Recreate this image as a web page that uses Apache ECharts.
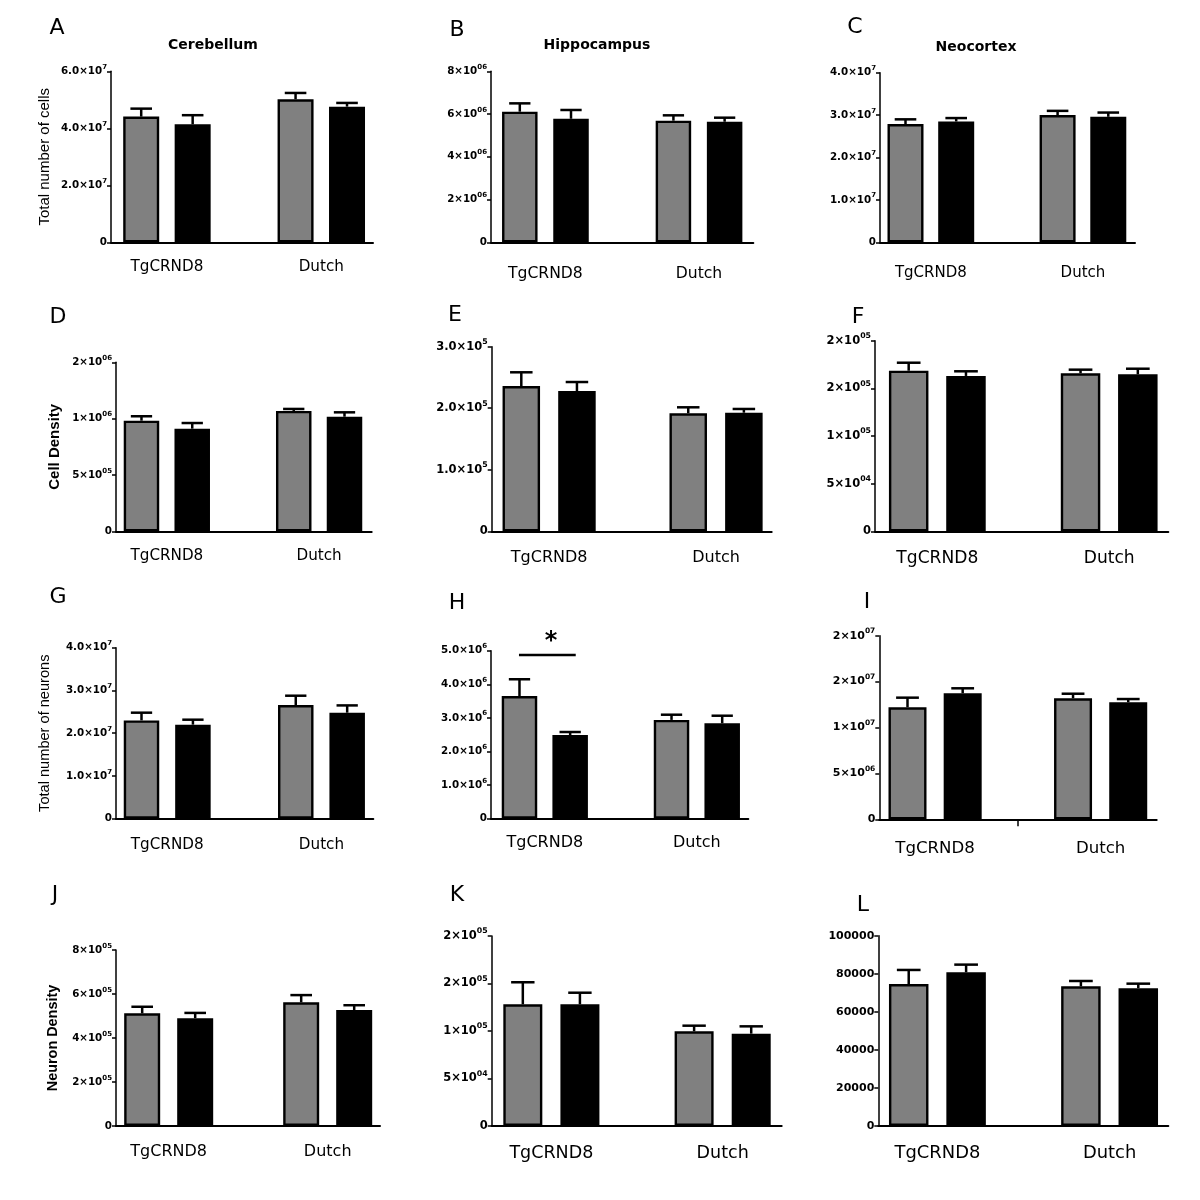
<!DOCTYPE html>
<html><head><meta charset="utf-8">
<script src="https://cdn.jsdelivr.net/npm/echarts@6/dist/echarts.min.js"></script>
<style>html,body{margin:0;padding:0;background:#fff}#c{width:1200px;height:1200px}</style>
</head><body><div id="c"></div>
<script>
// ---------------- DATA ----------------
const categories = ['TgCRND8', 'Dutch'];
const panelLetters = ['A','B','C','D','E','F','G','H','I','J','K','L'];
const regionTitles = ['Cerebellum', 'Hippocampus', 'Neocortex'];
const yAxisNames = ['Total number of cells', 'Cell Density', 'Total number of neurons', 'Neuron Density'];

// mean and SEM per category [TgCRND8, Dutch]
const A_gray = [4.41e7, 5.02e7], A_grayErr = [0.28e7, 0.22e7];
const A_black = [4.14e7, 4.76e7], A_blackErr = [0.32e7, 0.13e7];
const A_ticks = ['0', '2.0×10^7', '4.0×10^7', '6.0×10^7'];

const B_gray = [6.11e6, 5.69e6], B_grayErr = [0.39e6, 0.25e6];
const B_black = [5.78e6, 5.64e6], B_blackErr = [0.41e6, 0.19e6];
const B_ticks = ['0', '2×10^06', '4×10^06', '6×10^06', '8×10^06'];

const C_gray = [2.79e7, 3.00e7], C_grayErr = [0.11e7, 0.10e7];
const C_black = [2.85e7, 2.96e7], C_blackErr = [0.08e7, 0.10e7];
const C_ticks = ['0', '1.0×10^7', '2.0×10^7', '3.0×10^7', '4.0×10^7'];

const D_gray = [0.982e6, 1.068e6], D_grayErr = [0.039e6, 0.018e6];
const D_black = [0.911e6, 1.017e6], D_blackErr = [0.050e6, 0.039e6];
const D_ticks = ['0', '5×10^05', '1×10^06', '2×10^06'];

const E_gray = [2.36e5, 1.918e5], E_grayErr = [0.224e5, 0.097e5];
const E_black = [2.28e5, 1.927e5], E_blackErr = [0.146e5, 0.061e5];
const E_ticks = ['0', '1.0×10^5', '2.0×10^5', '3.0×10^5'];

const F_gray = [1.685e5, 1.658e5], F_grayErr = [0.084e5, 0.038e5];
const F_black = [1.630e5, 1.647e5], F_blackErr = [0.049e5, 0.059e5];
const F_ticks = ['0', '5×10^04', '1×10^05', '2×10^05', '2×10^05'];

const G_gray = [2.30e7, 2.66e7], G_grayErr = [0.18e7, 0.217e7];
const G_black = [2.20e7, 2.48e7], G_blackErr = [0.116e7, 0.17e7];
const G_ticks = ['0', '1.0×10^7', '2.0×10^7', '3.0×10^7', '4.0×10^7'];

const H_gray = [3.65e6, 2.94e6], H_grayErr = [0.50e6, 0.155e6];
const H_black = [2.49e6, 2.84e6], H_blackErr = [0.09e6, 0.225e6];
const H_ticks = ['0', '1.0×10^6', '2.0×10^6', '3.0×10^6', '4.0×10^6', '5.0×10^6'];
const H_sigLevel = 4.87e6;
const H_sigMark = '*';

const I_gray = [1.22e7, 1.318e7], I_grayErr = [0.105e7, 0.05e7];
const I_black = [1.373e7, 1.275e7], I_blackErr = [0.054e7, 0.035e7];
const I_ticks = ['0', '5×10^06', '1×10^07', '2×10^07', '2×10^07'];

const J_gray = [5.12e5, 5.62e5], J_grayErr = [0.30e5, 0.33e5];
const J_black = [4.90e5, 5.27e5], J_blackErr = [0.24e5, 0.22e5];
const J_ticks = ['0', '2×10^05', '4×10^05', '6×10^05', '8×10^05'];

const K_gray = [1.281e5, 0.997e5], K_grayErr = [0.232e5, 0.059e5];
const K_black = [1.281e5, 0.972e5], K_blackErr = [0.122e5, 0.077e5];
const K_ticks = ['0', '5×10^04', '1×10^05', '2×10^05', '2×10^05'];

const L_gray = [74600, 73400], L_grayErr = [7400, 2800];
const L_black = [80800, 72400], L_blackErr = [4000, 2400];
const L_ticks = ['0', '20000', '40000', '60000', '80000', '100000'];

// ---------------- LAYOUT ----------------
const FONT = 'DejaVu Sans';
const GRAY = '#808080';
const panels = [
  {gray:A_gray, gErr:A_grayErr, black:A_black, bErr:A_blackErr, ticks:A_ticks, grid:[111,71.3,262,171], x:[0.413,5.505], bw:36, yMax:6e7, yInt:2e7, tf:10.3, cf:15.2, cm:16.8, yName:0, nameGap:59, nameFont:15, nameBold:false},
  {gray:B_gray, gErr:B_grayErr, black:B_black, bErr:B_blackErr, ticks:B_ticks, grid:[491,71.3,262.3,171], x:[0.4375,5.56], bw:35.5, yMax:8e6, yInt:2e6, tf:10.3, cf:15.6, cm:23.2},
  {gray:C_gray, gErr:C_grayErr, black:C_black, bErr:C_blackErr, ticks:C_ticks, grid:[880,72.7,255,169.6], x:[0.497,5.527], bw:36, yMax:4e7, yInt:1e7, tf:10.3, cf:15, cm:23.5},
  {gray:D_gray, gErr:D_grayErr, black:D_black, bErr:D_blackErr, ticks:D_ticks, grid:[116,362.3,255.7,169], x:[0.498,5.536], bw:35.5, yMax:1.5e6, yInt:5e5, tf:10.3, cf:15.2, cm:17.1, yName:1, nameGap:54, nameFont:15, nameBold:true},
  {gray:E_gray, gErr:E_grayErr, black:E_black, bErr:E_blackErr, ticks:E_ticks, grid:[491.7,346.7,280,184.6], x:[0.468,5.50], bw:37.5, yMax:3e5, yInt:1e5, tf:11.5, cf:16, cm:19},
  {gray:F_gray, gErr:F_grayErr, black:F_black, bErr:F_blackErr, ticks:F_ticks, grid:[875,340.7,293.3,190.6], x:[0.412,5.532], bw:39.5, yMax:2e5, yInt:5e4, tf:11.5, cf:17.1, cm:18.5},
  {gray:G_gray, gErr:G_grayErr, black:G_black, bErr:G_blackErr, ticks:G_ticks, grid:[116,647.7,257.3,171], x:[0.504,5.508], bw:35.5, yMax:4e7, yInt:1e7, tf:10.3, cf:15.2, cm:18.7, yName:2, nameGap:64, nameFont:14.6, nameBold:false},
  {gray:H_gray, gErr:H_grayErr, black:H_black, bErr:H_blackErr, ticks:H_ticks, grid:[491,650.7,257.3,168], x:[0.438,5.515], bw:35.5, yMax:5e6, yInt:1e6, tf:10.3, cf:16, cm:16.6, sig:{x1:0.99, x2:2.11, sx:1.62}},
  {gray:I_gray, gErr:I_grayErr, black:I_black, bErr:I_blackErr, ticks:I_ticks, grid:[879.3,635.7,277.4,183.6], x:[0.489,5.516], bw:38, yMax:2e7, yInt:5e6, tf:11, cf:16.6, cm:20.7, midTick:3},
  {gray:J_gray, gErr:J_grayErr, black:J_black, bErr:J_blackErr, ticks:J_ticks, grid:[116,950,264,176], x:[0.506,5.487], bw:36, yMax:8e5, yInt:2e5, tf:10.3, cf:16, cm:17.7, yName:3, nameGap:56, nameFont:14.4, nameBold:true},
  {gray:K_gray, gErr:K_grayErr, black:K_black, bErr:K_blackErr, ticks:K_ticks, grid:[491.7,936,290,190], x:[0.455,5.534], bw:39, yMax:2e5, yInt:5e4, tf:11.5, cf:17.5, cm:18.5},
  {gray:L_gray, gErr:L_grayErr, black:L_black, bErr:L_blackErr, ticks:L_ticks, grid:[878.3,935.7,290,190.3], x:[0.47,5.523], bw:39.5, yMax:1e5, yInt:2e4, tf:11, cf:17.9, cm:18.4}
];
const letterPos = [[57,28],[457,30],[855,27],[58,317],[455,315],[858,317],[58,597],[457,603],[867,602],[55,895],[457,895],[863,905]];
const titlePos = [[213,45],[597,45],[976,47]];
// bar slots on each panel's x scale: TgCRND8 -> 1 (gray), 2 (black); Dutch -> 4 (gray), 5 (black)
const graySlots = [1, 4], blackSlots = [2, 5];

function tickText(s) {
  const parts = s.split('^');
  return parts.length > 1 ? '{m|' + parts[0] + '}{s|' + parts[1] + '}' : '{m|' + parts[0] + '}';
}

const grids = [], xAxes = [], yAxes = [], series = [], graphics = [];
panels.forEach((p, i) => {
  grids.push({left:p.grid[0], top:p.grid[1], width:p.grid[2], height:p.grid[3], containLabel:false, outerBoundsMode:'none'});
  xAxes.push({
    type:'value', gridIndex:i, min:p.x[0], max:p.x[1],
    axisLine:{show:true, onZero:false, lineStyle:{color:'#000', width:2}},
    axisTick: p.midTick ? {show:true, customValues:[p.midTick], length:7, lineStyle:{color:'#000', width:1.5}} : {show:false},
    splitLine:{show:false},
    axisLabel:{
      customValues:[1.5, 4.5], margin:p.cm,
      formatter:(v) => v < 3 ? categories[0] : categories[1],
      fontFamily:FONT, fontSize:p.cf, color:'#000'
    }
  });
  const ya = {
    type:'value', gridIndex:i, min:0, max:p.yMax, interval:p.yInt,
    axisLine:{show:true, onZero:false, lineStyle:{color:'#000', width:1.5}},
    axisTick:{show:true, length:4, lineStyle:{color:'#000', width:1.5}},
    splitLine:{show:false},
    axisLabel:{
      margin:4,
      formatter:(v) => tickText(p.ticks[Math.round(v / p.yInt)] || ''),
      rich:{
        m:{fontFamily:FONT, fontWeight:'bold', fontSize:p.tf, color:'#000', lineHeight:p.tf*1.5},
        s:{fontFamily:FONT, fontWeight:'bold', fontSize:p.tf*0.68, color:'#000', lineHeight:p.tf*0.7, verticalAlign:'top'}
      }
    }
  };
  if (p.yName !== undefined) {
    Object.assign(ya, {
      name:yAxisNames[p.yName], nameLocation:'middle', nameGap:p.nameGap, nameRotate:90,
      nameTextStyle:{fontFamily:'Liberation Sans', fontSize:p.nameFont, fontWeight:p.nameBold ? 'bold' : 'normal', color:'#000'}
    });
  }
  yAxes.push(ya);

  const gData = p.gray.map((v, k) => [graySlots[k], v]);
  const bData = p.black.map((v, k) => [blackSlots[k], v]);
  const common = {type:'bar', xAxisIndex:i, yAxisIndex:i, barWidth:p.bw, barGap:'-100%', silent:true, animation:false};
  series.push(Object.assign({}, common, {data:gData, itemStyle:{color:GRAY, borderColor:'#000', borderWidth:2.4}}));
  series.push(Object.assign({}, common, {data:bData, itemStyle:{color:'#000', borderColor:'#000', borderWidth:2.4}}));

  const errData = p.gray.map((v, k) => [graySlots[k], v, p.gErr[k]])
    .concat(p.black.map((v, k) => [blackSlots[k], v, p.bErr[k]]));
  const capHalf = p.bw * 0.3;
  series.push({
    type:'custom', xAxisIndex:i, yAxisIndex:i, data:errData, silent:true, animation:false, z:1,
    renderItem:(params, api) => {
      const x = api.value(0), m = api.value(1), e = api.value(2);
      const p0 = api.coord([x, m]), p1 = api.coord([x, m + e]);
      const st = {stroke:'#000', lineWidth:2.5};
      return {type:'group', children:[
        {type:'line', shape:{x1:p0[0], y1:p0[1], x2:p1[0], y2:p1[1]}, style:st},
        {type:'line', shape:{x1:p1[0]-capHalf, y1:p1[1], x2:p1[0]+capHalf, y2:p1[1]}, style:st}
      ]};
    }
  });

  if (p.sig) {
    series.push({
      type:'custom', xAxisIndex:i, yAxisIndex:i, data:[[p.sig.x1, p.sig.x2, H_sigLevel, p.sig.sx]], silent:true, animation:false, clip:false,
      renderItem:(params, api) => {
        const a = api.coord([api.value(0), api.value(2)]);
        const b = api.coord([api.value(1), api.value(2)]);
        const s = api.coord([api.value(3), api.value(2)]);
        return {type:'group', children:[
          {type:'line', shape:{x1:a[0], y1:a[1], x2:b[0], y2:b[1]}, style:{stroke:'#000', lineWidth:2.5}},
          {type:'text', x:s[0], y:s[1]-1, style:{text:H_sigMark, font:'bold 24px "DejaVu Sans"', fill:'#000', textAlign:'center', textVerticalAlign:'bottom'}}
        ]};
      }
    });
  }

  graphics.push({type:'text', x:letterPos[i][0], y:letterPos[i][1], style:{text:panelLetters[i], font:'22px "DejaVu Sans"', fill:'#000', textAlign:'center', textVerticalAlign:'middle'}});
});
regionTitles.forEach((t, k) => {
  graphics.push({type:'text', x:titlePos[k][0], y:titlePos[k][1], style:{text:t, font:'bold 14px "DejaVu Sans"', fill:'#000', textAlign:'center', textVerticalAlign:'middle'}});
});

const chart = echarts.init(document.getElementById('c'), null, {renderer:'canvas'});
chart.setOption({
  backgroundColor:'#fff',
  animation:false,
  grid:grids, xAxis:xAxes, yAxis:yAxes, series:series, graphic:graphics
});
</script>
</body></html>
